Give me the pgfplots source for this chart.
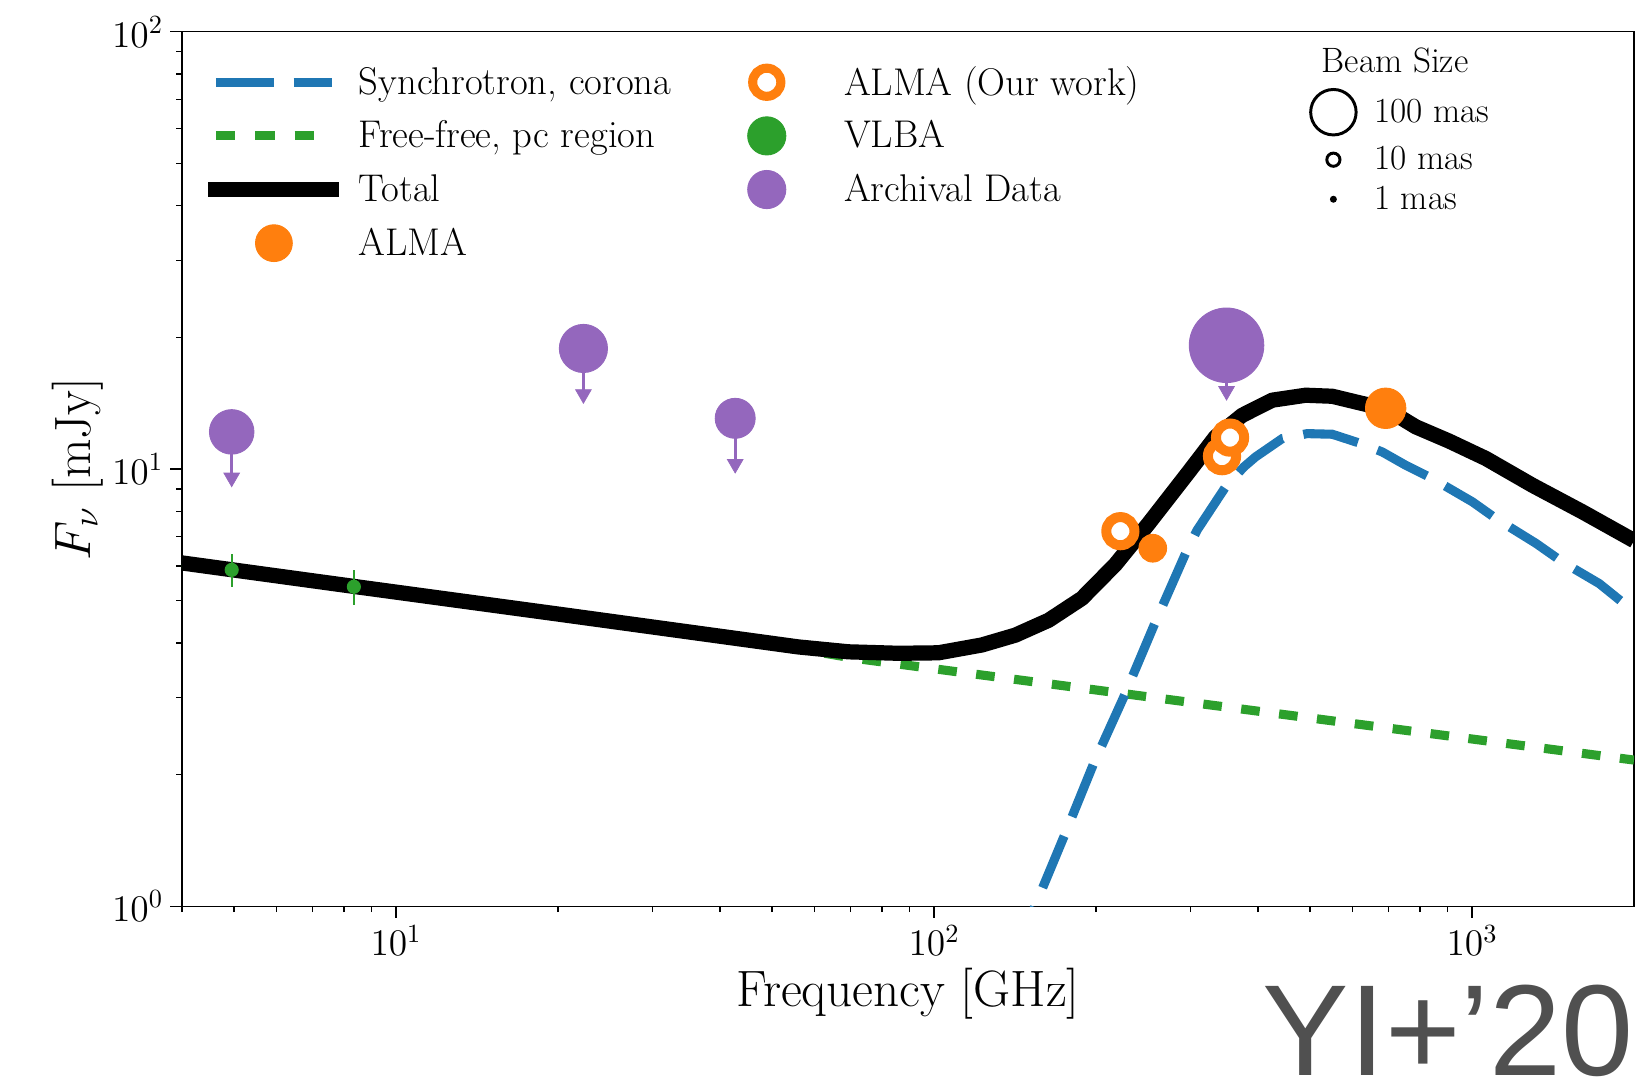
\RequirePackage{fix-cm}
\documentclass[border=0pt]{standalone}
\usepackage{fontspec}
\newfontfamily\yifont{Liberation Sans}
\usepackage{pgfplots}
\pgfplotsset{compat=1.18}
\definecolor{tabblue}{HTML}{1F77B4}
\definecolor{taborange}{HTML}{FF7F0E}
\definecolor{tabgreen}{HTML}{2CA02C}
\definecolor{tabpurple}{HTML}{9467BD}
\definecolor{yigray}{HTML}{505050}
\newcommand\lfont{\fontsize{22.5}{27}\selectfont}
\newcommand\tfont{\fontsize{16.5}{20}\selectfont}
\newcommand\gfont{\fontsize{17}{21}\selectfont}
\newcommand\bfont{\fontsize{15.5}{19}\selectfont}
\begin{document}
\begin{tikzpicture}
\useasboundingbox (-80.04pt,-78.19pt) rectangle (641.1pt,398.77pt);
\begin{axis}[
  at={(0pt,0pt)}, anchor=south west,
  scale only axis, width=638.9pt, height=384.8pt,
  xmode=log, ymode=log,
  xmin=4, xmax=2000, ymin=1, ymax=100,
  tick pos=left, tick align=outside,
  major tick length=5.1pt, minor tick length=2.6pt,
  every tick/.style={black, line width=0.6pt},
  axis line style={line width=0.6pt},
  tick label style={font=\tfont},
  xticklabel style={inner sep=3pt},
  yticklabel style={inner sep=3pt},
  xlabel={Frequency [GHz]},
  ylabel={$F_\nu$ [mJy]},
  label style={font=\lfont},
  xlabel style={at={(axis description cs:0.5,-0.1146)}, anchor=base},
  ylabel style={at={(axis description cs:-0.0633,0.5)}, anchor=base},
  legend columns=2,
  legend cell align=left,
  legend style={at={(axis description cs:0.0182,0.9729)}, anchor=north west,
    draw=none, fill=none, inner sep=0pt, outer sep=0pt,
    column sep=8.5pt, row sep=0pt, font=\gfont, nodes={inner sep=0pt}},
]
% free-free, pc region
\addplot[tabgreen, line width=4pt, dash pattern=on 8.2pt off 8.6pt, forget plot] coordinates {
(4,6.05) (8.35,5.36) (20,4.64) (56,3.88) (71.3,3.69) (310.5,2.91) (2000,2.16)};
% synchrotron, corona
\addplot[tabblue, line width=4pt, dash pattern=on 24.6pt off 9.2pt, forget plot] coordinates {
(140,0.76) (154,1.0) (175.4,1.469) (198,2.12) (225.2,3.01) (257.9,4.47) (293.4,6.41)
(308.3,7.25) (348.2,9.10) (376.6,10.11) (396,10.66) (443.8,11.74) (493.9,12.05)
(549.8,12.01) (620.9,11.44) (681,10.94) (753,10.20) (844,9.51) (1002,8.41)
(1107,7.71) (1315,6.76) (1473,6.13) (1724,5.47) (2000,4.72)};
% total
\addplot[black, line width=6.7pt, line join=round, forget plot] coordinates {
(4,6.10) (8.35,5.39) (20,4.66) (55.9,3.92) (69.3,3.82) (85.9,3.79) (101.9,3.80)
(122.7,3.96) (141.6,4.17) (163.3,4.51) (188.3,5.06) (217.3,6.05) (250.6,7.51)
(297.5,9.85) (333.6,11.84) (373.9,13.27) (425.1,14.37) (490.6,14.75) (549.8,14.67)
(625.2,14.12) (691,13.75) (786,12.49) (907,11.58) (1061,10.57) (1295,9.18)
(1605,7.98) (2000,6.86)};
% VLBA
\addplot[only marks, mark=*, mark size=2.9pt, tabgreen, mark options={draw=none, fill=tabgreen}, forget plot,
  error bars/.cd, y dir=both, y explicit, error mark=none,
  error bar style={line width=0.9pt, tabgreen}] coordinates {
(4.95,5.88) +- (0,0.5) (8.35,5.38) +- (0,0.5)};
% Archival upper limits: stems
\addplot[only marks, mark=*, mark size=9.8pt, tabpurple, mark options={draw=none, fill=tabpurple}, forget plot,
  error bars/.cd, y dir=minus, y explicit, error mark=none,
  error bar style={line width=1.2pt, tabpurple}] coordinates {(4.95,12.16) +- (0,2.60)};
\addplot[only marks, mark=*, mark size=10.6pt, tabpurple, mark options={draw=none, fill=tabpurple}, forget plot,
  error bars/.cd, y dir=minus, y explicit, error mark=none,
  error bar style={line width=1.2pt, tabpurple}] coordinates {(22.3,18.87) +- (0,4.04)};
\addplot[only marks, mark=*, mark size=8.8pt, tabpurple, mark options={draw=none, fill=tabpurple}, forget plot,
  error bars/.cd, y dir=minus, y explicit, error mark=none,
  error bar style={line width=1.2pt, tabpurple}] coordinates {(42.7,13.06) +- (0,2.79)};
\addplot[only marks, mark=*, mark size=16.4pt, tabpurple, mark options={draw=none, fill=tabpurple}, forget plot,
  error bars/.cd, y dir=minus, y explicit, error mark=none,
  error bar style={line width=1.2pt, tabpurple}] coordinates {(349.7,19.19) +- (0,4.11)};
% Archival upper limits: arrow heads
\addplot[only marks, mark=triangle*, mark size=4pt, tabpurple,
  mark options={rotate=180, fill=tabpurple, draw=tabpurple, line width=0.3pt}, forget plot]
  coordinates {(4.95,9.56) (22.3,14.83) (42.7,10.27) (349.7,15.08)};
% ALMA (our work)
\addplot[only marks, mark=*, mark size=6.2pt, taborange, mark options={draw=taborange, fill=white, line width=4.4pt}, forget plot]
  coordinates {(222,7.21) (343,10.7) (355,11.8)};
% ALMA
\addplot[only marks, mark=*, mark size=6.1pt, taborange, mark options={draw=none, fill=taborange}, forget plot]
  coordinates {(255,6.59)};
\addplot[only marks, mark=*, mark size=8.9pt, taborange, mark options={draw=none, fill=taborange}, forget plot]
  coordinates {(691,13.77)};
% legend (row-wise order)
\addlegendimage{legend image code/.code={\path[draw=none, fill=none] (0pt,-11.8pt) rectangle (51pt,11.8pt);
  \draw[tabblue, line width=4pt, dash pattern=on 25.4pt off 8.8pt] (0pt,0pt) -- (51pt,0pt);}}
\addlegendentry{\makebox[145.5pt][l]{Synchrotron, corona}}
\addlegendimage{legend image code/.code={\path[draw=none, fill=none] (0pt,-11.8pt) rectangle (51pt,11.8pt);
  \draw[taborange, line width=4pt, fill=white] (25.5pt,0pt) circle (6.2pt);}}
\addlegendentry{ALMA (Our work)}
\addlegendimage{legend image code/.code={\path[draw=none, fill=none] (0pt,-11.8pt) rectangle (51pt,11.8pt);
  \draw[tabgreen, line width=4pt, dash pattern=on 8.5pt off 8.8pt] (0pt,0pt) -- (51pt,0pt);}}
\addlegendentry{\makebox[145.5pt][l]{Free-free, pc region}}
\addlegendimage{legend image code/.code={\path[draw=none, fill=none] (0pt,-11.8pt) rectangle (51pt,11.8pt);
  \fill[tabgreen] (25.5pt,0pt) circle (8.4pt);}}
\addlegendentry{VLBA}
\addlegendimage{legend image code/.code={\path[draw=none, fill=none] (0pt,-11.8pt) rectangle (51pt,11.8pt);
  \draw[black, line width=6.7pt, line cap=rect] (0pt,0pt) -- (51pt,0pt);}}
\addlegendentry{\makebox[145.5pt][l]{Total}}
\addlegendimage{legend image code/.code={\path[draw=none, fill=none] (0pt,-11.8pt) rectangle (51pt,11.8pt);
  \fill[tabpurple] (25.5pt,0pt) circle (8.4pt);}}
\addlegendentry{Archival Data}
\addlegendimage{legend image code/.code={\path[draw=none, fill=none] (0pt,-11.8pt) rectangle (51pt,11.8pt);
  \fill[taborange] (25.5pt,0pt) circle (8.1pt);}}
\addlegendentry{\makebox[145.5pt][l]{ALMA}}
\end{axis}
\node[anchor=base east, inner sep=0pt, text=yigray, font=\yifont\fontsize{57}{60}\selectfont] at (638.9pt,-74.3pt) {YI+’20};
\begin{axis}[
  at={(0pt,0pt)}, anchor=south west,
  scale only axis, width=638.9pt, height=384.8pt,
  hide axis, xmin=0, xmax=1, ymin=0, ymax=1,
  legend cell align=left,
  legend style={at={(axis description cs:0.7742,0.9935)}, anchor=north west,
    draw=none, fill=none, inner sep=0pt, outer sep=0pt,
    column sep=5.9pt, row sep=0pt, font=\bfont, nodes={inner sep=0pt}},
]
\addplot[draw=none, forget plot] coordinates {(0.5,0.5)};
\addlegendimage{legend image code/.code={\path[draw=none, fill=none] (0pt,-10.8pt) rectangle (24pt,10.8pt);}}
\addlegendentry{\hspace*{-23pt}Beam Size}
\addlegendimage{legend image code/.code={\path[draw=none, fill=none] (0pt,-11.3pt) rectangle (24pt,11.3pt);
  \draw[black, line width=1.3pt] (12pt,0pt) circle (10pt);}}
\addlegendentry{100 mas}
\addlegendimage{legend image code/.code={\path[draw=none, fill=none] (0pt,-9.6pt) rectangle (24pt,9.6pt);
  \draw[black, line width=1.3pt] (12pt,0pt) circle (2.9pt);}}
\addlegendentry{10 mas}
\addlegendimage{legend image code/.code={\path[draw=none, fill=none] (0pt,-7.8pt) rectangle (24pt,7.8pt);
  \draw[black, line width=1pt, fill=black] (12pt,0pt) circle (1pt);}}
\addlegendentry{1 mas}
\end{axis}
\end{tikzpicture}
\end{document}
